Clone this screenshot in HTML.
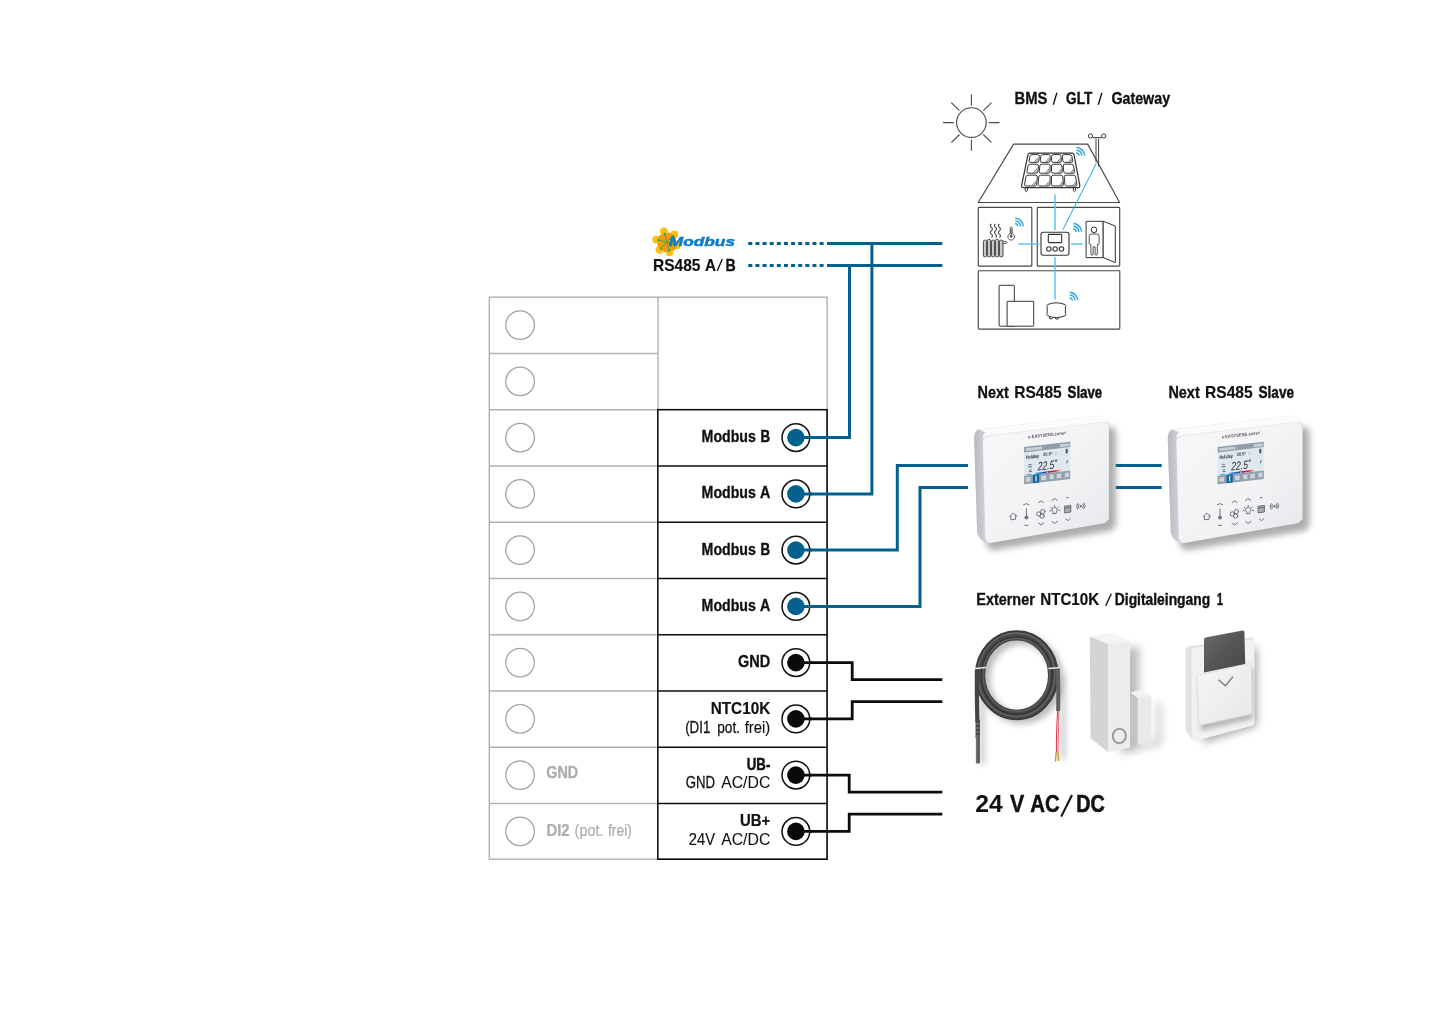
<!DOCTYPE html>
<html><head><meta charset="utf-8">
<style>
html,body{margin:0;padding:0;background:#fff;}
body{width:1445px;height:1021px;overflow:hidden;font-family:"Liberation Sans",sans-serif;}
svg{display:block;}
text{font-family:"Liberation Sans",sans-serif;}
.b{font-weight:bold;}
.k{fill:#111;}
.g{fill:#b9b9b9;}
</style></head><body>
<svg width="1445" height="1021" viewBox="0 0 1445 1021" style="will-change:transform;opacity:0.999">
<defs>
<filter id="blur3" x="-20%" y="-20%" width="140%" height="140%"><feGaussianBlur stdDeviation="3"/></filter>
<filter id="blur4" x="-30%" y="-30%" width="160%" height="160%"><feGaussianBlur stdDeviation="4"/></filter>
<filter id="blur2" x="-20%" y="-20%" width="140%" height="140%"><feGaussianBlur stdDeviation="2"/></filter>
<filter id="blur1" x="-20%" y="-20%" width="140%" height="140%"><feGaussianBlur stdDeviation="0.6"/></filter>
<linearGradient id="gface" x1="0" y1="0" x2="1" y2="1"><stop offset="0" stop-color="#f7f8f9"/><stop offset="0.6" stop-color="#f1f2f4"/><stop offset="1" stop-color="#e6e7ea"/></linearGradient>
<linearGradient id="gside" x1="0" y1="0" x2="1" y2="0"><stop offset="0" stop-color="#b9babd"/><stop offset="1" stop-color="#d6d7da"/></linearGradient>
<linearGradient id="gcard" x1="0" y1="0" x2="1" y2="1"><stop offset="0" stop-color="#6a6a6a"/><stop offset="0.5" stop-color="#565656"/><stop offset="1" stop-color="#474747"/></linearGradient>
<linearGradient id="gpanel" x1="0" y1="0" x2="1" y2="1"><stop offset="0" stop-color="#f6f6f6"/><stop offset="1" stop-color="#e7e7e7"/></linearGradient>
<linearGradient id="gbar" x1="0" y1="0" x2="1" y2="0"><stop offset="0" stop-color="#34aee9"/><stop offset="0.4" stop-color="#2546b4"/><stop offset="0.55" stop-color="#9a2066"/><stop offset="0.8" stop-color="#e02a2a"/><stop offset="1" stop-color="#f2a0a0"/></linearGradient>
<g id="slave">
<!-- shadow -->
<path d="M980 440L1106 424Q1113 423 1113 430V520Q1113 526 1107 528L992 547Q984 548 983 540Z" fill="#6b6b6b" opacity="0.55" filter="url(#blur3)" transform="translate(3 3)"/>
<!-- side/top body -->
<path d="M978.5 429.3L1096 415.8Q1103 415.2 1106.5 418.5L1109 424L1109 520L988 543.5Q980 541 977.2 533L974.2 440Q974 431 978.5 429.3Z" fill="#dcdde0"/>
<path d="M974.2 440Q974 431 979 429.5L986 433Q982.5 435 982.6 441L985 538Q985.4 542 988 543.5Q980 541 977.2 533Z" fill="url(#gside)"/>
<path d="M979 429.5L1096 415.8Q1103 415.2 1106.5 418.5L1108.6 423.4Q1107 421.6 1102 422L989 435.6Q985 436 983.4 438Q982 434 986 432.6Z" fill="#fbfbfc"/>
<!-- front face -->
<path d="M989.5 436L1102 422.2Q1108.6 421.6 1108.6 428V516Q1108.6 522.4 1102.4 523.6L992.6 542.6Q985.6 543.6 985.4 536.6L983 443.4Q982.8 436.8 989.5 436Z" fill="url(#gface)"/>
<!-- brand -->
<g transform="translate(1047.6 436.4) rotate(-6.4)"><text x="-19.4" y="0" font-size="4.6" font-weight="bold" fill="#4b4f55" textLength="38.6" lengthAdjust="spacingAndGlyphs" style="letter-spacing:0.2px">e-EASYSENS.zone&lt;</text></g>
<!-- screen -->
<g transform="matrix(1 -0.115 0 1 1024.1 447.1)">
<rect x="0" y="0" width="46.1" height="37.2" fill="#dfe7ef"/>
<rect x="0" y="0" width="46.1" height="5.3" fill="#919da8"/>
<rect x="0" y="28.6" width="46.1" height="8.6" fill="#93a0ab"/>
<rect x="8.8" y="28.6" width="6.2" height="8.6" fill="#10659a"/>
<g fill="#dfe6ee" opacity="0.75"><rect x="1.8" y="30.6" width="4.6" height="4.6"/><rect x="17.2" y="30.6" width="4.8" height="4.6"/><rect x="25.6" y="30.6" width="4" height="4.6"/><rect x="32.6" y="30.6" width="4.6" height="4.6"/><rect x="40.8" y="30.6" width="4" height="4.4"/><rect x="11.2" y="30" width="1.5" height="5.6" fill="#fff" opacity="1"/></g>
<g fill="#d5dde5" opacity="0.8"><rect x="1.8" y="1.4" width="16" height="2.8"/><rect x="36" y="1.4" width="9.4" height="2.8"/></g>
<text x="13.6" y="25" font-size="12" fill="#26282c" font-family="Liberation Sans" textLength="16.6" lengthAdjust="spacingAndGlyphs" font-style="italic">22.5</text>
<circle cx="32" cy="17.2" r="0.9" fill="none" stroke="#26282c" stroke-width="0.7"/>
<text x="1.8" y="12.2" font-size="5" fill="#2c2e33" font-weight="bold" textLength="13.2" lengthAdjust="spacingAndGlyphs">Holiday</text>
<text x="19" y="11.2" font-size="4.6" fill="#3a3d42" font-weight="bold" textLength="9.4" lengthAdjust="spacingAndGlyphs">20.5°</text>
<rect x="31" y="8.4" width="1.8" height="3.2" fill="#c3ccd6"/>
<rect x="41.6" y="6.6" width="2" height="4.6" rx="0.8" fill="#4a4e55"/><path d="M43.6 18.2L42.6 21" stroke="#4a4e55" stroke-width="0.9" fill="none"/>
<path d="M4.2 18.6q1.6 -1.4 3.2 0M4 20.4h3.8M5 23.4q1.6 1 2.4 -0.4M4.8 25.2h3" stroke="#4d525c" stroke-width="0.8" fill="none"/>
<rect x="2.2" y="27.4" width="5.6" height="1" rx="0.5" fill="#39aee8"/>
<rect x="11.4" y="26.9" width="24.8" height="1.6" rx="0.8" fill="url(#gbar)" transform="rotate(-1.2 24 27.5)"/>
<rect x="22.2" y="26.8" width="1.8" height="1.8" fill="#fff" stroke="#333" stroke-width="0.4"/>
</g>
<!-- buttons -->
<g fill="none" stroke="#62666c" stroke-width="0.9" stroke-linecap="round">
<path d="M1009.6 516.6l3.6 -3.6l3.8 3.2M1010.8 516v3.8l4.8 -0.6v-3.6"/>
<path d="M1023.6 504.6q2.8 -2.2 5.4 0M1024.6 525.2q1.8 1.4 3.6 0M1026.4 508.8v7.6"/>
<circle cx="1026.4" cy="517.6" r="1.5" fill="#7b7f85"/>
<path d="M1038.6 502.6l2.4 -1.8l2.4 1.6M1038.4 523l2.6 2l2.8 -2.2"/>
<circle cx="1038.8" cy="514" r="2.2"/><circle cx="1042.8" cy="511.6" r="2.2"/><circle cx="1042" cy="516" r="2.2"/>
<path d="M1051.8 500.6l2.6 -2l2.8 1.8M1052 521.6l2.6 1.8l2.8 -2"/>
<path d="M1053 512a2.6 2.6 0 1 1 3.2 0v1.6h-3.2zM1050.6 507.2l1 1M1058.6 506.8l-1 1M1049.6 510.8h1.2M1058.8 510.4h1.2M1054.6 505.4v1.2"/>
<path d="M1066.6 497.8l1.6 -0.3M1065.8 519l2.2 1.6l2.2 -2"/>
<path d="M1064.8 506.2l6 -0.8v6.6l-6 0.9zM1064.8 508.2l6 -0.8" fill="#a9acb1"/>
<path d="M1078.8 504.6q-1.4 1.6 0 3.6M1082.8 504q1.6 1.8 0 3.8M1077.6 503.6q-2.4 2.6 0 5.6M1084 503q2.6 2.6 0 5.6"/>
<circle cx="1080.8" cy="506.2" r="0.7" fill="#6f7378"/>
</g>
</g>
</defs>
<rect width="1445" height="1021" fill="#fff"/>

<!-- TABLE-GRAY -->
<g fill="none" stroke="#b2b2b2" stroke-width="1.45">
<rect x="489.3" y="297.2" width="337.8" height="562"/>
<line x1="658" y1="297.2" x2="658" y2="410"/>
<line x1="489.3" y1="353.4" x2="658" y2="353.4"/>
<line x1="489.3" y1="409.7" x2="658" y2="409.7"/>
<line x1="489.3" y1="465.9" x2="658" y2="465.9"/>
<line x1="489.3" y1="522.2" x2="658" y2="522.2"/>
<line x1="489.3" y1="578.4" x2="658" y2="578.4"/>
<line x1="489.3" y1="634.7" x2="658" y2="634.7"/>
<line x1="489.3" y1="690.9" x2="658" y2="690.9"/>
<line x1="489.3" y1="747.2" x2="658" y2="747.2"/>
<line x1="489.3" y1="803.4" x2="658" y2="803.4"/>
</g>
<g fill="#fff" stroke="#a0a0a0" stroke-width="1.25">
<circle cx="520.1" cy="325.1" r="14.3"/>
<circle cx="520.1" cy="381.4" r="14.3"/>
<circle cx="520.1" cy="437.6" r="14.3"/>
<circle cx="520.1" cy="493.9" r="14.3"/>
<circle cx="520.1" cy="550.1" r="14.3"/>
<circle cx="520.1" cy="606.4" r="14.3"/>
<circle cx="520.1" cy="662.6" r="14.3"/>
<circle cx="520.1" cy="718.9" r="14.3"/>
<circle cx="520.1" cy="775.1" r="14.3"/>
<circle cx="520.1" cy="831.4" r="14.3"/>
</g>

<!-- TABLE-BLACK -->
<g fill="none" stroke="#0c0c0c" stroke-width="1.55">
<rect x="657.8" y="409.7" width="169.3" height="449.5"/>
<line x1="657.8" y1="465.9" x2="827.1" y2="465.9"/>
<line x1="657.8" y1="522.2" x2="827.1" y2="522.2"/>
<line x1="657.8" y1="578.4" x2="827.1" y2="578.4"/>
<line x1="657.8" y1="634.7" x2="827.1" y2="634.7"/>
<line x1="657.8" y1="690.9" x2="827.1" y2="690.9"/>
<line x1="657.8" y1="747.2" x2="827.1" y2="747.2"/>
<line x1="657.8" y1="803.4" x2="827.1" y2="803.4"/>
</g>

<!-- WIRES-BLUE -->
<g fill="none" stroke="#04608e" stroke-width="3" stroke-linejoin="miter">
<path d="M748.3 243.4H824" stroke-dasharray="4 3.13"/>
<path d="M748.3 265.4H824" stroke-dasharray="4 3.13"/>
<path d="M827 243.4H942.3"/>
<path d="M827 265.4H942.3"/>
<path d="M796 437.6H849.5V265.4"/>
<path d="M796 493.9H871.9V243.4"/>
<path d="M796 550.1H897.3V465.4H968"/>
<path d="M796 606.4H920V487.6H968"/>
<path d="M1115.7 465.4H1161.7"/>
<path d="M1115.7 487.6H1161.7"/>
</g>
<!-- WIRES-BLACK -->
<g fill="none" stroke="#0c0c0c" stroke-width="2.8" stroke-linejoin="miter">
<path d="M796 662.6H852.2V679.6H942.3"/>
<path d="M796 718.9H852.2V701.6H942.3"/>
<path d="M796 775.1H849.2V792.1H942.3"/>
<path d="M796 831.4H849.2V814.2H942.3"/>
</g>

<!-- TERMINALS -->
<g fill="#fff" stroke="#111" stroke-width="1.55">
<circle cx="795.9" cy="437.6" r="13.85"/>
<circle cx="795.9" cy="493.9" r="13.85"/>
<circle cx="795.9" cy="550.1" r="13.85"/>
<circle cx="795.9" cy="606.4" r="13.85"/>
<circle cx="795.9" cy="662.6" r="13.85"/>
<circle cx="795.9" cy="718.9" r="13.85"/>
<circle cx="795.9" cy="775.1" r="13.85"/>
<circle cx="795.9" cy="831.4" r="13.85"/>
</g>
<g fill="#04608e">
<circle cx="795.9" cy="437.6" r="8.8"/>
<circle cx="795.9" cy="493.9" r="8.8"/>
<circle cx="795.9" cy="550.1" r="8.8"/>
<circle cx="795.9" cy="606.4" r="8.8"/>
</g>
<g fill="#0a0a0a">
<circle cx="795.9" cy="662.6" r="8.8"/>
<circle cx="795.9" cy="718.9" r="8.8"/>
<circle cx="795.9" cy="775.1" r="8.8"/>
<circle cx="795.9" cy="831.4" r="8.8"/>
</g>
<!-- wire stubs over terminal ring -->
<g fill="none" stroke-width="3">
<path d="M796 437.6H812M796 493.9H812M796 550.1H812M796 606.4H812" stroke="#04608e"/>
<path d="M796 662.6H812M796 718.9H812M796 775.1H812M796 831.4H812" stroke="#0c0c0c" stroke-width="2.8"/>
</g>

<!-- TEXT-BEGIN -->
<g>
<text x="701.6" y="442.1" font-size="16.6" font-weight="bold" fill="#111" textLength="54.3" lengthAdjust="spacingAndGlyphs" stroke="#111" stroke-width="0.35">Modbus</text>
<text x="760.6" y="442.1" font-size="16.6" font-weight="bold" fill="#111" textLength="9.6" lengthAdjust="spacingAndGlyphs" stroke="#111" stroke-width="0.48">B</text>
<text x="701.6" y="498.3" font-size="16.6" font-weight="bold" fill="#111" textLength="54.3" lengthAdjust="spacingAndGlyphs" stroke="#111" stroke-width="0.35">Modbus</text>
<text x="759.9" y="498.3" font-size="16.6" font-weight="bold" fill="#111" textLength="10.3" lengthAdjust="spacingAndGlyphs" stroke="#111" stroke-width="0.34">A</text>
<text x="701.6" y="554.6" font-size="16.6" font-weight="bold" fill="#111" textLength="54.3" lengthAdjust="spacingAndGlyphs" stroke="#111" stroke-width="0.35">Modbus</text>
<text x="760.6" y="554.6" font-size="16.6" font-weight="bold" fill="#111" textLength="9.6" lengthAdjust="spacingAndGlyphs" stroke="#111" stroke-width="0.48">B</text>
<text x="701.6" y="610.8" font-size="16.6" font-weight="bold" fill="#111" textLength="54.3" lengthAdjust="spacingAndGlyphs" stroke="#111" stroke-width="0.35">Modbus</text>
<text x="759.9" y="610.8" font-size="16.6" font-weight="bold" fill="#111" textLength="10.3" lengthAdjust="spacingAndGlyphs" stroke="#111" stroke-width="0.34">A</text>
<text x="737.9" y="667.0" font-size="16.6" font-weight="bold" fill="#111" textLength="32.3" lengthAdjust="spacingAndGlyphs" stroke="#111" stroke-width="0.30">GND</text>
<text x="710.7" y="713.5" font-size="16.6" font-weight="bold" fill="#111" textLength="59.6" lengthAdjust="spacingAndGlyphs" stroke="#111" stroke-width="0.18">NTC10K</text>
<text x="685.2" y="733.4" font-size="16.6" fill="#111" textLength="25.1" lengthAdjust="spacingAndGlyphs" stroke="#111" stroke-width="0.28">(DI1</text>
<text x="717.3" y="733.4" font-size="16.6" fill="#111" textLength="22.7" lengthAdjust="spacingAndGlyphs" stroke="#111" stroke-width="0.25">pot.</text>
<text x="744.7" y="733.4" font-size="16.6" fill="#111" textLength="25.6" lengthAdjust="spacingAndGlyphs" stroke="#111" stroke-width="0.15">frei)</text>
<text x="746.8" y="769.5" font-size="16.6" font-weight="bold" fill="#111" textLength="23.5" lengthAdjust="spacingAndGlyphs" stroke="#111" stroke-width="0.49">UB-</text>
<text x="685.7" y="788.3" font-size="16.6" fill="#111" textLength="29.3" lengthAdjust="spacingAndGlyphs" stroke="#111" stroke-width="0.29">GND</text>
<text x="721.2" y="788.3" font-size="16.6" fill="#111" textLength="49.1" lengthAdjust="spacingAndGlyphs" stroke="#111" stroke-width="0.07">AC/DC</text>
<text x="740.0" y="825.8" font-size="16.6" font-weight="bold" fill="#111" textLength="30.3" lengthAdjust="spacingAndGlyphs" stroke="#111" stroke-width="0.24">UB+</text>
<text x="688.8" y="844.7" font-size="16.6" fill="#111" textLength="26.2" lengthAdjust="spacingAndGlyphs" stroke="#111" stroke-width="0.16">24V</text>
<text x="721.2" y="844.7" font-size="16.6" fill="#111" textLength="49.1" lengthAdjust="spacingAndGlyphs" stroke="#111" stroke-width="0.07">AC/DC</text>
<text x="546.2" y="778.4" font-size="16.6" font-weight="bold" fill="#acacac" textLength="32.0" lengthAdjust="spacingAndGlyphs" stroke="#acacac" stroke-width="0.32">GND</text>
<text x="546.4" y="835.5" font-size="16.6" font-weight="bold" fill="#acacac" textLength="23.2" lengthAdjust="spacingAndGlyphs" stroke="#acacac" stroke-width="0.24">DI2</text>
<text x="574.6" y="835.5" font-size="16.6" fill="#acacac" textLength="28.9" lengthAdjust="spacingAndGlyphs" stroke="#acacac" stroke-width="0.18">(pot.</text>
<text x="608.0" y="835.5" font-size="16.6" fill="#acacac" textLength="23.8" lengthAdjust="spacingAndGlyphs" stroke="#acacac" stroke-width="0.24">frei)</text>
<text x="653.0" y="270.6" font-size="16.6" font-weight="bold" fill="#111" textLength="47.5" lengthAdjust="spacingAndGlyphs" stroke="#111" stroke-width="0.15">RS485</text>
<text x="705.0" y="270.6" font-size="16.6" font-weight="bold" fill="#111" textLength="11.0" lengthAdjust="spacingAndGlyphs" stroke="#111" stroke-width="0.20">A</text>
<path d="M717.2 270.9L722.3 259.0" stroke="#111" stroke-width="1.35" fill="none"/>
<text x="725.5" y="270.6" font-size="16.6" font-weight="bold" fill="#111" textLength="10.2" lengthAdjust="spacingAndGlyphs" stroke="#111" stroke-width="0.36">B</text>
<text x="1014.6" y="104.4" font-size="16.6" font-weight="bold" fill="#111" textLength="32.9" lengthAdjust="spacingAndGlyphs" stroke="#111" stroke-width="0.26">BMS</text>
<path d="M1053.3 104.7L1056.9 92.8" stroke="#111" stroke-width="1.35" fill="none"/>
<text x="1066.1" y="104.4" font-size="16.6" font-weight="bold" fill="#111" textLength="26.1" lengthAdjust="spacingAndGlyphs" stroke="#111" stroke-width="0.44">GLT</text>
<path d="M1098.3 104.7L1101.9 92.8" stroke="#111" stroke-width="1.35" fill="none"/>
<text x="1111.4" y="104.4" font-size="16.6" font-weight="bold" fill="#111" textLength="58.7" lengthAdjust="spacingAndGlyphs" stroke="#111" stroke-width="0.34">Gateway</text>
<text x="977.5" y="397.6" font-size="16.6" font-weight="bold" fill="#111" textLength="31.3" lengthAdjust="spacingAndGlyphs" stroke="#111" stroke-width="0.31">Next</text>
<text x="1014.2" y="397.6" font-size="16.6" font-weight="bold" fill="#111" textLength="47.6" lengthAdjust="spacingAndGlyphs" stroke="#111" stroke-width="0.15">RS485</text>
<text x="1067.6" y="397.6" font-size="16.6" font-weight="bold" fill="#111" textLength="34.6" lengthAdjust="spacingAndGlyphs" stroke="#111" stroke-width="0.49">Slave</text>
<text x="1168.4" y="397.6" font-size="16.6" font-weight="bold" fill="#111" textLength="31.3" lengthAdjust="spacingAndGlyphs" stroke="#111" stroke-width="0.31">Next</text>
<text x="1205.1" y="397.6" font-size="16.6" font-weight="bold" fill="#111" textLength="47.6" lengthAdjust="spacingAndGlyphs" stroke="#111" stroke-width="0.15">RS485</text>
<text x="1258.5" y="397.6" font-size="16.6" font-weight="bold" fill="#111" textLength="35.6" lengthAdjust="spacingAndGlyphs" stroke="#111" stroke-width="0.43">Slave</text>
<text x="976.3" y="605.4" font-size="16.6" font-weight="bold" fill="#111" textLength="58.5" lengthAdjust="spacingAndGlyphs" stroke="#111" stroke-width="0.32">Externer</text>
<text x="1040.2" y="605.4" font-size="16.6" font-weight="bold" fill="#111" textLength="59.0" lengthAdjust="spacingAndGlyphs" stroke="#111" stroke-width="0.21">NTC10K</text>
<path d="M1105.7 605.7L1111.3 593.8" stroke="#111" stroke-width="1.35" fill="none"/>
<text x="1114.8" y="605.4" font-size="16.6" font-weight="bold" fill="#111" textLength="95.4" lengthAdjust="spacingAndGlyphs" stroke="#111" stroke-width="0.40">Digitaleingang</text>
<text x="1216.9" y="605.4" font-size="16.6" font-weight="bold" fill="#111" textLength="5.9" lengthAdjust="spacingAndGlyphs" stroke="#111" stroke-width="0.60">1</text>
<text x="975.2" y="811.8" font-size="24" font-weight="bold" fill="#111" textLength="27.5" lengthAdjust="spacingAndGlyphs">24</text>
<text x="1009.9" y="811.8" font-size="24" font-weight="bold" fill="#111" textLength="14.3" lengthAdjust="spacingAndGlyphs" stroke="#111" stroke-width="0.37">V</text>
<text x="1030.3" y="811.8" font-size="24" font-weight="bold" fill="#111" textLength="29.4" lengthAdjust="spacingAndGlyphs" stroke="#111" stroke-width="0.53">AC</text>
<path d="M1061.2 816.6L1072.0 795.0" stroke="#111" stroke-width="2.10" fill="none"/>
<text x="1076.3" y="811.8" font-size="24" font-weight="bold" fill="#111" textLength="28.5" lengthAdjust="spacingAndGlyphs" stroke="#111" stroke-width="0.60">DC</text>
</g>
<!-- TEXT-END -->
<!-- MODBUS-LOGO -->
<g>
<g fill="#fcc117">
<circle cx="663.9" cy="231.5" r="3.9"/><circle cx="674.4" cy="234.4" r="3.9"/><circle cx="656.2" cy="239.6" r="3.9"/>
<circle cx="659.4" cy="249.8" r="3.9"/><circle cx="669.6" cy="252.4" r="3.9"/><circle cx="677" cy="245.3" r="3.9"/>
</g>
<g fill="#f39a14">
<circle cx="662.2" cy="238.2" r="3.6"/><circle cx="668.6" cy="236.2" r="3.6"/><circle cx="661" cy="244.6" r="3.6"/>
<circle cx="665.8" cy="248.6" r="3.6"/><circle cx="672" cy="247.2" r="3.6"/><circle cx="672.6" cy="241" r="3.6"/><circle cx="666.6" cy="242" r="4"/>
</g>
<g stroke="#45a735" stroke-width="0.9" fill="#45a735">
<path d="M666.6 242L664.6 234M666.6 242L673.2 236M666.6 242L658.3 240.3M666.6 242L661 248.6M666.6 242L669.2 250.6M666.6 242L675 245" fill="none"/>
<circle cx="664.6" cy="234" r="0.9"/><circle cx="673.2" cy="236" r="0.9"/><circle cx="658.3" cy="240.3" r="0.9"/><circle cx="661" cy="248.6" r="0.9"/><circle cx="669.2" cy="250.6" r="0.9"/>
</g>
<text x="668.8" y="246.2" font-size="12.2" font-weight="bold" font-style="italic" fill="#0d7cc6" stroke="#0d7cc6" stroke-width="0.45" textLength="66.2" lengthAdjust="spacingAndGlyphs">Modbus</text>
</g>
<!-- HOUSE -->
<g fill="none" stroke="#4a4a4a" stroke-width="1.1">
<circle cx="971.4" cy="122.6" r="14.8"/>
<path d="M971.4 94.4V105.5M971.4 139.8V150.8M943 122.6H953.8M988.8 122.6H999.5M951.3 102.6L959.5 110.7M991.5 102.6L983.3 110.7M951.3 142.6L959.5 134.5M991.5 142.6L983.3 134.5"/>
</g>
<g fill="none" stroke="#484848" stroke-width="1.15" stroke-linejoin="round">
<path d="M1013.6 144.1H1087.7L1119.6 202.5H978.2Z"/>
<rect x="978.3" y="207.4" width="53.5" height="58.8" rx="0.8"/>
<rect x="1037.3" y="207.4" width="82.4" height="58.8" rx="0.8"/>
<rect x="978.3" y="270.7" width="141.5" height="58.4" rx="0.8"/>
</g>
<!-- light blue connections -->
<g fill="none" stroke="#5cc2ee" stroke-width="1.5">
<path d="M1055 194.5V230M1055 257V299.2M1018.2 244H1039.2M1071 244H1082.7"/>
<path d="M1096.3 163.3L1062.8 229.8" stroke="#27a3e0" stroke-width="1"/>
</g>
<!-- wifi symbols -->
<g fill="none" stroke="#27a3e0" stroke-width="1.4">
<g transform="translate(1075.8 156.2)"><path d="M0.5 -3.4A3.4 3.4 0 0 1 3.4 -0.5M0.6 -6.1A6.1 6.1 0 0 1 6.1 -0.6M0.7 -8.8A8.8 8.8 0 0 1 8.8 -0.7"/></g>
<g transform="translate(1014.6 227)"><path d="M0.5 -3.4A3.4 3.4 0 0 1 3.4 -0.5M0.6 -6.1A6.1 6.1 0 0 1 6.1 -0.6M0.7 -8.8A8.8 8.8 0 0 1 8.8 -0.7"/></g>
<g transform="translate(1072.8 232.3)"><path d="M0.5 -3.4A3.4 3.4 0 0 1 3.4 -0.5M0.6 -6.1A6.1 6.1 0 0 1 6.1 -0.6M0.7 -8.8A8.8 8.8 0 0 1 8.8 -0.7"/></g>
<g transform="translate(1069 301)"><path d="M0.5 -3.4A3.4 3.4 0 0 1 3.4 -0.5M0.6 -6.1A6.1 6.1 0 0 1 6.1 -0.6M0.7 -8.8A8.8 8.8 0 0 1 8.8 -0.7"/></g>
</g>
<!-- anemometer -->
<g fill="#fff" stroke="#3c3c3c" stroke-width="1">
<path d="M1096 162V138.5M1098.6 166.5V138.5" fill="none"/>
<path d="M1092.5 137.6H1101.8" fill="none"/>
<circle cx="1090.5" cy="136" r="2.1"/>
<circle cx="1103.7" cy="136" r="2.1"/>
</g>
<!-- solar panel -->
<g fill="none" stroke="#333" stroke-width="1" stroke-linejoin="round">
<path d="M1029.6 153.2H1072.2Q1073.6 153.2 1074 154.6L1079.8 185.4Q1080 187.6 1078 187.6H1023.4Q1021.2 187.6 1021.6 185.4L1028 154.6Q1028.4 153.2 1029.6 153.2Z" stroke-width="1.2"/>
<path d="M1025.2 187.6V190.8Q1026.3 192.6 1027.4 190.8V187.6M1073.4 187.6V190.8Q1074.5 192.6 1075.6 190.8V187.6"/>
</g>
<g fill="#fff" stroke="#333" stroke-width="1"><path d="M1032.0 154.6H1037.7Q1039.5 154.6 1039.3 156.4L1038.9 160.6Q1038.7 162.4 1036.9 162.4H1030.5Q1028.7 162.4 1029.1 160.6L1029.9 156.4Q1030.2 154.6 1032.0 154.6Z"/><path d="M1034.5 161.8L1037.9 157.8M1036.1 161.8L1038.2 159.4" stroke-width="0.8" stroke="#555"/><path d="M1042.7 154.6H1048.4Q1050.2 154.6 1050.2 156.4L1050.2 160.6Q1050.1 162.4 1048.3 162.4H1041.9Q1040.1 162.4 1040.3 160.6L1040.7 156.4Q1040.9 154.6 1042.7 154.6Z"/><path d="M1045.9 161.8L1049.3 157.8M1047.5 161.8L1049.6 159.4" stroke-width="0.8" stroke="#555"/><path d="M1053.4 154.6H1059.1Q1060.9 154.6 1061.0 156.4L1061.4 160.6Q1061.6 162.4 1059.8 162.4H1053.3Q1051.5 162.4 1051.6 160.6L1051.6 156.4Q1051.6 154.6 1053.4 154.6Z"/><path d="M1057.4 161.8L1060.8 157.8M1059.0 161.8L1061.1 159.4" stroke-width="0.8" stroke="#555"/><path d="M1064.1 154.6H1069.8Q1071.6 154.6 1071.9 156.4L1072.6 160.6Q1073.0 162.4 1071.2 162.4H1064.8Q1063.0 162.4 1062.8 160.6L1062.4 156.4Q1062.3 154.6 1064.1 154.6Z"/><path d="M1068.8 161.8L1072.2 157.8M1070.4 161.8L1072.5 159.4" stroke-width="0.8" stroke="#555"/><path d="M1030.2 164.2H1036.8Q1038.6 164.2 1038.4 166.0L1037.9 171.4Q1037.7 173.2 1035.9 173.2H1028.5Q1026.7 173.2 1027.0 171.4L1028.0 166.0Q1028.4 164.2 1030.2 164.2Z"/><path d="M1033.5 172.6L1036.9 168.6M1035.1 172.6L1037.2 170.2" stroke-width="0.8" stroke="#555"/><path d="M1041.8 164.2H1048.3Q1050.1 164.2 1050.1 166.0L1050.1 171.4Q1050.1 173.2 1048.3 173.2H1040.9Q1039.1 173.2 1039.3 171.4L1039.8 166.0Q1040.0 164.2 1041.8 164.2Z"/><path d="M1045.9 172.6L1049.3 168.6M1047.5 172.6L1049.6 170.2" stroke-width="0.8" stroke="#555"/><path d="M1053.3 164.2H1059.9Q1061.7 164.2 1061.9 166.0L1062.3 171.4Q1062.5 173.2 1060.7 173.2H1053.3Q1051.5 173.2 1051.5 171.4L1051.5 166.0Q1051.5 164.2 1053.3 164.2Z"/><path d="M1058.3 172.6L1061.7 168.6M1059.9 172.6L1062.0 170.2" stroke-width="0.8" stroke="#555"/><path d="M1064.9 164.2H1071.5Q1073.3 164.2 1073.6 166.0L1074.6 171.4Q1074.9 173.2 1073.1 173.2H1065.7Q1063.9 173.2 1063.7 171.4L1063.3 166.0Q1063.1 164.2 1064.9 164.2Z"/><path d="M1070.7 172.6L1074.1 168.6M1072.3 172.6L1074.4 170.2" stroke-width="0.8" stroke="#555"/><path d="M1028.1 175.2H1035.7Q1037.5 175.2 1037.3 177.0L1036.6 184.2Q1036.4 186.0 1034.6 186.0H1026.0Q1024.2 186.0 1024.6 184.2L1025.9 177.0Q1026.3 175.2 1028.1 175.2Z"/><path d="M1032.2 185.4L1035.6 181.4M1033.8 185.4L1035.9 183.0" stroke-width="0.8" stroke="#555"/><path d="M1040.7 175.2H1048.3Q1050.1 175.2 1050.1 177.0L1050.0 184.2Q1050.0 186.0 1048.2 186.0H1039.6Q1037.8 186.0 1038.0 184.2L1038.7 177.0Q1038.9 175.2 1040.7 175.2Z"/><path d="M1045.8 185.4L1049.2 181.4M1047.4 185.4L1049.5 183.0" stroke-width="0.8" stroke="#555"/><path d="M1053.3 175.2H1060.9Q1062.7 175.2 1062.8 177.0L1063.5 184.2Q1063.6 186.0 1061.8 186.0H1053.2Q1051.4 186.0 1051.4 184.2L1051.5 177.0Q1051.5 175.2 1053.3 175.2Z"/><path d="M1059.4 185.4L1062.8 181.4M1061.0 185.4L1063.1 183.0" stroke-width="0.8" stroke="#555"/><path d="M1065.9 175.2H1073.5Q1075.3 175.2 1075.6 177.0L1076.9 184.2Q1077.2 186.0 1075.4 186.0H1066.8Q1065.0 186.0 1064.9 184.2L1064.2 177.0Q1064.1 175.2 1065.9 175.2Z"/><path d="M1073.0 185.4L1076.4 181.4M1074.6 185.4L1076.7 183.0" stroke-width="0.8" stroke="#555"/></g>
<!-- controller -->
<g fill="#fff" stroke="#333" stroke-width="1.1">
<rect x="1041" y="232.2" width="28" height="23" rx="2.2"/>
<rect x="1048.3" y="234.4" width="13.4" height="8.2" rx="0.8"/>
<circle cx="1048.8" cy="249" r="2.2"/><circle cx="1055.1" cy="249" r="2.2"/><circle cx="1061.5" cy="249" r="2.2"/>
</g>
<!-- radiator -->
<g fill="none" stroke="#444" stroke-width="0.9">
<path d="M991.4 224q-2.2 1.7 0 3.4t0 3.4t0 3.4t0 3.4M995.5 224q-2.2 1.7 0 3.4t0 3.4t0 3.4t0 3.4M999.4 224q-2.2 1.7 0 3.4t0 3.4t0 3.4t0 3.4" stroke-width="1.05"/>
<g fill="#c9c9c9" stroke-width="1">
<rect x="983.4" y="240.2" width="3.2" height="16.6" rx="1.2"/>
<rect x="987.4" y="239.4" width="3.2" height="17.4" rx="1.2"/>
<rect x="991.4" y="240.2" width="3.2" height="16.6" rx="1.2"/>
<rect x="995.4" y="239.4" width="3.2" height="17.4" rx="1.2"/>
<rect x="999.4" y="240.2" width="3.6" height="16.6" rx="1.2"/>
</g>
<path d="M1003 241.4H1006.2Q1007.4 242.4 1006.2 243.4H1003"/>
</g>
<!-- thermometer -->
<g fill="#fff" stroke="#444" stroke-width="0.9">
<path d="M1010.3 233.6V227.6Q1011.2 226 1012.1 227.6V233.6A3.3 3.3 0 1 1 1010.3 233.6Z"/>
<circle cx="1011.2" cy="236.4" r="0.9" fill="#444"/>
<path d="M1011.2 236V229.5" fill="none"/>
</g>
<!-- door + person -->
<g fill="#fff" stroke="#333" stroke-width="1" stroke-linejoin="round">
<rect x="1086.1" y="221.3" width="17.1" height="36.3"/>
<path d="M1103.2 221.3L1115.3 226V262.6L1103.2 257.6Z"/>
<circle cx="1094" cy="229.8" r="2.8"/>
<path d="M1091.4 234H1096.8Q1099.1 234 1099.1 236.3V243.4Q1099.1 244.4 1098.1 244.4H1097.3V254.2Q1097.3 255.2 1096.2 255.2Q1095.1 255.2 1095.1 254.2V246.8H1093.1V254.2Q1093.1 255.2 1092 255.2Q1090.9 255.2 1090.9 254.2V244.4H1090.2Q1089.2 244.4 1089.2 243.4V236.3Q1089.2 234 1091.4 234Z" stroke-width="0.85"/>
</g>
<!-- boiler + pump -->
<g fill="#fff" stroke="#333" stroke-width="1" stroke-linejoin="round">
<rect x="999.1" y="285.3" width="15.2" height="40.9" rx="0.6"/>
<rect x="1007.1" y="301.3" width="26.6" height="24.9" rx="0.6"/>
<path d="M1049.4 316.6q-0.6 2.2 1.6 2.4q1.4 0 1.8-1.4M1055.2 317.6q0.2 1.6 1.8 1.6q1.6 0 2 -1.8" fill="none"/>
<path d="M1047.4 304.6Q1056.2 301 1065.2 304.6Q1066.6 305.4 1065.4 306.4V313.6Q1066.8 314.8 1065.4 315.6Q1056.2 319.6 1047.4 315.6Q1045.8 314.8 1047.2 313.6V306.4Q1046 305.4 1047.4 304.6Z"/>
</g>
<!-- SLAVES -->
<use href="#slave"/>
<use href="#slave" transform="translate(193.6 0)"/>
<!-- SENSORS -->
<!-- cable sensor -->
<g>
<g opacity="0.5" filter="url(#blur3)" transform="translate(5 4)">
<ellipse cx="1016.6" cy="675" rx="36.5" ry="39.6" fill="none" stroke="#777" stroke-width="10"/>
<path d="M977.6 670V760M1058 670V755" stroke="#777" stroke-width="4" fill="none"/>
</g>
<ellipse cx="1016.6" cy="675.2" rx="36.6" ry="39.8" fill="none" stroke="#48484a" stroke-width="10.4"/>
<ellipse cx="1016.2" cy="674.8" rx="38.6" ry="41.8" fill="none" stroke="#6b6b6d" stroke-width="1.3" opacity="0.9"/>
<ellipse cx="1016.8" cy="675.6" rx="35.6" ry="38.8" fill="none" stroke="#2f2f31" stroke-width="1.1" opacity="0.85"/>
<ellipse cx="1016.4" cy="675" rx="33.4" ry="36.6" fill="none" stroke="#646466" stroke-width="1.2" opacity="0.8"/>
<ellipse cx="1016.9" cy="675.4" rx="40.9" ry="44" fill="none" stroke="#39393b" stroke-width="1.4" opacity="0.9"/>
<path d="M977 668Q976.6 690 977.4 722" stroke="#444446" stroke-width="4.2" fill="none"/>
<path d="M1057.8 668Q1058.6 690 1058.2 711" stroke="#5e5e60" stroke-width="4" fill="none"/>
<path d="M975 668.6L986 667.6M1048.4 668.4L1060 667.4" stroke="#e8e8e8" stroke-width="1.5" fill="none"/>
<rect x="975.6" y="720" width="4.4" height="18" fill="#4c4744"/>
<path d="M975.4 724h4.8M975.4 728h4.8M975.4 732h4.8M975.4 736h4.8" stroke="#8a847f" stroke-width="1" fill="none"/>
<rect x="975.9" y="737" width="4" height="26.4" rx="0.8" fill="#5e5753"/>
<rect x="976.4" y="737" width="1.1" height="26" fill="#857d78"/>
<path d="M1057.6 711Q1056.2 735 1056.4 752" stroke="#e0304a" stroke-width="1" fill="none"/>
<path d="M1058.8 711Q1058.6 735 1057.8 752" stroke="#e8566a" stroke-width="0.9" fill="none"/>
<path d="M1056.2 752L1055.4 761.6M1058 752L1058.6 761" stroke="#c49a3a" stroke-width="1.5" fill="none"/>
</g>
<!-- door contact -->
<g>
<path d="M1114 648L1134 644V744L1152 738V700L1156 702V742L1116 752Z" fill="#555" opacity="0.4" filter="url(#blur4)" transform="translate(5 2)"/>
<path d="M1089.8 636.3L1108.1 643.9V752L1090.6 738.3Z" fill="#d4d4d4"/>
<path d="M1108.1 643.9L1130.1 640.9V747.5L1108.1 752Z" fill="#ececec"/>
<path d="M1089.8 636.3L1111.1 632.5L1130.1 640.9L1108.1 643.9Z" fill="#f4f4f4"/>
<ellipse cx="1119.4" cy="735.9" rx="6.5" ry="7.2" fill="none" stroke="#989898" stroke-width="1.9" transform="rotate(10 1119.3 735.8)"/>
<path d="M1130.6 692.6L1137.8 698V744.4L1130.6 738.3Z" fill="#c4c4c4"/>
<path d="M1137.8 698L1151.5 695.7V739.8L1137.8 744.4Z" fill="#e9e9e9"/>
<path d="M1130.6 692.6L1141.6 689.6L1151.5 695.7L1137.8 698Z" fill="#f2f2f2"/>
</g>
<!-- card switch -->
<g>
<path d="M1194 652L1252 643V722L1198 739Z" fill="#555" opacity="0.5" filter="url(#blur4)" transform="translate(5 4)"/>
<path d="M1185.6 649Q1185.6 647 1188 646.6L1250 637.6Q1254.4 637.2 1254.4 641V722Q1254.4 725 1251.6 725.8L1195 741Q1191.6 741.6 1191.4 739L1185.6 730Z" fill="#e2e2e2"/>
<path d="M1191.6 651Q1191.6 648.4 1194 648L1250 639.4Q1254.4 639 1254.4 642V722Q1254.4 725 1251.6 725.8L1195 741Q1191.8 741.6 1191.8 738.4Z" fill="#f1f1f1"/>
<path d="M1204 639.4Q1204 638 1205.4 637.6L1242.6 630.4Q1244.4 630.2 1244.4 632L1245.2 664L1204 672.4Z" fill="url(#gcard)"/>
<path d="M1198 678L1252 666V716L1200 728Z" fill="#777" opacity="0.45" filter="url(#blur2)" transform="translate(1 3)"/>
<path d="M1197 677Q1197 675.4 1198.6 675L1249.6 663.6Q1251.4 663.4 1251.4 665L1252 712.4Q1252 714 1250.4 714.4L1200.4 725.2Q1198.8 725.4 1198.7 723.8Z" fill="url(#gpanel)" stroke="#d4d4d4" stroke-width="0.6"/>
<path d="M1218.4 679.8L1225.4 685.8L1233 676.6" fill="none" stroke="#7c7c7c" stroke-width="1.4"/>
</g>
</svg>
</body></html>
